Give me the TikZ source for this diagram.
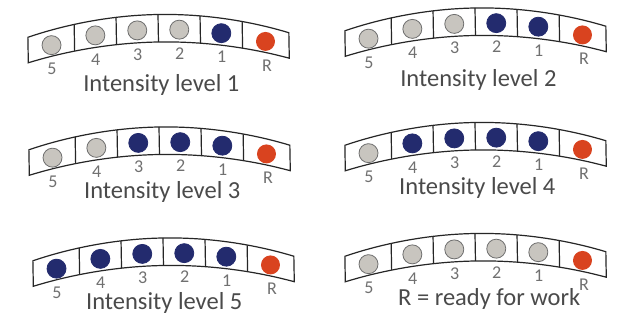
\documentclass[tikz,border=0pt]{standalone}
\usepackage{fontspec}
\setmainfont{Carlito}
\definecolor{ledblue}{HTML}{232B6E}
\definecolor{ledred}{HTML}{D9431F}
\definecolor{ledgrey}{HTML}{C8C5BF}
\definecolor{ledrim}{HTML}{6E6E6E}
\definecolor{labgrey}{HTML}{707070}
\definecolor{capgrey}{HTML}{4A4A4A}
\tikzset{
  band/.style={draw=black!85, line width=1.2pt},
  numlab/.style={text=labgrey, font=\fontsize{18}{18}\selectfont, inner sep=0pt},
  caption/.style={text=capgrey, font=\fontsize{24.5}{26}\selectfont, inner sep=0pt, anchor=base},
}
% Одна изогнутая полоска: #1 имя, #2 верх по центру, #3 горящих, #4 подпись (сдвиг), #5 текст
\newcommand{\ledstrip}[5]{%
  \begin{scope}[shift={(#2)}, rotate=1]
    % контур полоски
    \draw[band] (-130.5,-20.5) parabola bend (0,0) (130.5,-20.5)
                -- (130.5,-46) parabola bend (0,-27.5) (-130.5,-46) -- cycle;
    \foreach \x in {-84,-42,0,42,84}
      \draw[band] (\x,{-20.5*((\x)/130.5)^2}) -- (\x,{-27.5-18.5*((\x)/130.5)^2});
    % индикаторы 5..1
    \foreach \lab/\x in {5/-107,4/-63,3/-21,2/21,1/63} {
      \ifnum\lab>#3 \def\ledfill{ledgrey}\def\ledline{ledrim}\else\def\ledfill{ledblue}\def\ledline{ledblue}\fi
      \filldraw[fill=\ledfill, draw=\ledline, line width=0.8pt] (\x,{-(15+0.0012*(\x)*(\x))}) circle (9.5);
      \node[numlab] (#1-\lab) at (\x,{-(39.5+0.0012*((\x)*(\x)-441))}) {\lab};
    }
    % индикатор R
    \fill[ledred] (107,{-(15+0.0012*107*107)}) circle (9.5);
    \node[numlab] (#1-R) at (108,{-(39.5+0.0012*(107*107-441))}) {R};
    % подпись
    \node[caption] (#1-cap) at (#4) {#5};
  \end{scope}}

\begin{document}
\begin{tikzpicture}[x=1pt, y=1pt]
    \useasboundingbox[fill=white] (0,0) rectangle (625,320);

    % Левый столбец
    \ledstrip{p1}{158,305.5}{1}{2,-77}{Intensity level 1}
    \ledstrip{p3}{159,193}{3}{2,-72}{Intensity level 3}
    \ledstrip{p5}{163,82}{5}{0,-72}{Intensity level 5}

    % Правый столбец
    \ledstrip{p2}{475,312}{2}{2,-79}{Intensity level 2}
    \ledstrip{p4}{475,197.5}{4}{1,-72.5}{Intensity level 4}
    \ledstrip{p6}{475,86.5}{0}{13,-72.5}{R = ready for work}
\end{tikzpicture}
\end{document}
